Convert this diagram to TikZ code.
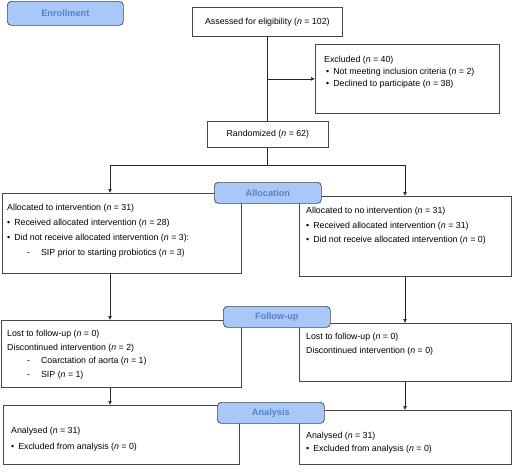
\documentclass[tikz,border=0pt]{standalone}
\usepackage{fontspec}
\setmainfont{Liberation Sans}
\usetikzlibrary{arrows.meta,positioning}
\definecolor{hdrfill}{RGB}{170,199,250}
\definecolor{hdrtext}{RGB}{84,128,204}
\definecolor{boxline}{RGB}{70,70,70}
\tikzset{
  >={Latex[length=4pt,width=4pt]},
  link/.style ={draw=black!85, line width=0.7pt},
  frame/.style={draw=boxline, line width=0.7pt, fill=white, anchor=north west, inner sep=0pt, font=\fontsize{8.8}{13}\selectfont},
  txt/.style  ={anchor=north west, inner sep=0pt, align=left, font=\fontsize{8.8}{14.5}\selectfont},
  hdr/.style  ={draw=boxline, line width=0.7pt, fill=hdrfill, rounded corners=4pt, anchor=north west, inner sep=0pt,
                text=hdrtext, font=\fontsize{9.2}{11}\selectfont\bfseries, minimum width=107, minimum height=21}
}
\newcommand{\nn}{\textit{n}}
\newcommand{\itm}{\textbullet\hspace{4pt}}
\newcommand{\subitm}{\hspace*{20pt}-\hspace{11pt}}

\begin{document}
\begin{tikzpicture}[x=1pt, y=-1pt]
\useasboundingbox (0,0) rectangle (512,475);

% enrolment
\node[frame, minimum width=150, minimum height=29] (assess) at (192,7) {Assessed for eligibility (\nn{} = 102)};
\node[frame, minimum width=184, minimum height=69] (excl) at (315,44) {};
\node[txt, font=\fontsize{8.8}{12}\selectfont] (excl-t) at ([shift={(9,12)}]excl.north west)
  {Excluded (\nn{} = 40)\\
   \hspace*{2pt}\itm Not meeting inclusion criteria (\nn{} = 2)\\
   \hspace*{2pt}\itm Declined to participate (\nn{} = 38)};
\node[frame, minimum width=121, minimum height=26] (rand) at (207,121) {Randomized (\nn{} = 62)};

% allocation
\node[frame, minimum width=239, minimum height=80] (intv) at (2,193) {};
\node[txt, font=\fontsize{8.8}{15}\selectfont] (intv-t) at ([shift={(5,11)}]intv.north west)
  {Allocated to intervention (\nn{} = 31)\\
   \itm Received allocated intervention (\nn{} = 28)\\
   \itm Did not receive allocated intervention (\nn{} = 3):\\
   \subitm SIP prior to starting probiotics (\nn{} = 3)};
\node[frame, minimum width=212, minimum height=80] (nointv) at (299,196) {};
\node[txt] (nointv-t) at ([shift={(7,11)}]nointv.north west)
  {Allocated to no intervention (\nn{} = 31)\\
   \itm Received allocated intervention (\nn{} = 31)\\
   \itm Did not receive allocated intervention (\nn{} = 0)};

% follow-up
\node[frame, minimum width=240, minimum height=67] (fuL) at (1,320) {};
\node[txt, font=\fontsize{8.8}{13.5}\selectfont] (fuL-t) at ([shift={(6,10)}]fuL.north west)
  {Lost to follow-up (\nn{} = 0)\\
   Discontinued intervention (\nn{} = 2)\\
   \subitm Coarctation of aorta (\nn{} = 1)\\
   \subitm SIP (\nn{} = 1)};
\node[frame, minimum width=212, minimum height=58] (fuR) at (299,323) {};
\node[txt, font=\fontsize{8.8}{14}\selectfont] (fuR-t) at ([shift={(7,10)}]fuR.north west)
  {Lost to follow-up (\nn{} = 0)\\
   Discontinued intervention (\nn{} = 0)};

% analysis
\node[frame, minimum width=236, minimum height=59] (anL) at (3,405) {};
\node[txt, font=\fontsize{8.8}{15.5}\selectfont] (anL-t) at ([shift={(8,22)}]anL.north west)
  {Analysed (\nn{} = 31)\\
   \itm Excluded from analysis (\nn{} = 0)};
\node[frame, minimum width=212, minimum height=54] (anR) at (299,410) {};
\node[txt, font=\fontsize{8.8}{13}\selectfont] (anR-t) at ([shift={(7,22)}]anR.north west)
  {Analysed (\nn{} = 31)\\
   \itm Excluded from analysis (\nn{} = 0)};

% connectors
\coordinate (armL) at (110,165);
\coordinate (armR) at (405,165);
\draw[link] (assess.south) -- (assess.south |- rand.north);
\draw[link,->] (assess.south |- excl.west) -- (excl.west);
\draw[link] (assess.south |- rand.south) -- (assess.south |- armL) coordinate (split);
\draw[link] (armL) -- (armR);
\draw[link,->] (armL) -- (armL |- intv.north);
\draw[link,->] (armR) -- (armR |- nointv.north);
\draw[link,->] (armL |- intv.south) -- (armL |- fuL.north);
\draw[link,->] (armR |- nointv.south) -- (armR |- fuR.north);
\draw[link,->] (armL |- fuL.south) -- (armL |- anL.north);
\draw[link,->] (armR |- fuR.south) -- (armR |- anR.north);

% stage headings
\node[hdr, minimum width=116, minimum height=24] (enrol) at (7,1) {Enrollment};
\node[hdr] (alloc) at (214,182) {Allocation};
\node[hdr] (follow) at (223,306) {Follow-up};
\node[hdr] (analysis) at (217,402) {Analysis};
\end{tikzpicture}
\end{document}
